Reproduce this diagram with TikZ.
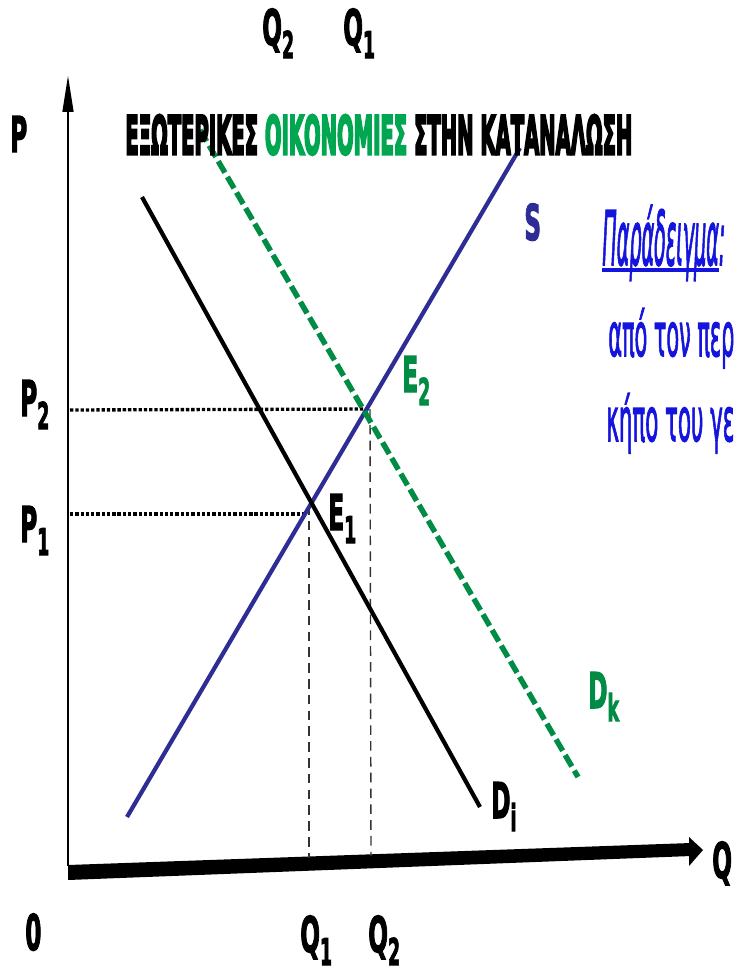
\documentclass[tikz,border=0pt]{standalone}
\usepackage{fontspec}
\setmainfont{DejaVu Sans}
\newfontfamily\heavyfont[FakeBold=3]{DejaVu Sans}
\newfontfamily\titlefont[FakeBold=6]{DejaVu Sans}
\newfontfamily\notefont[FakeBold=2.5]{DejaVu Sans}
\usetikzlibrary{arrows.meta}

\definecolor{supblue}{RGB}{46,45,150}
\definecolor{extgreen}{RGB}{0,140,68}
\definecolor{titlegreen}{RGB}{0,166,80}
\definecolor{noteblue}{RGB}{20,20,220}

\newlength{\pxu}
\setlength{\pxu}{0.02cm}
\newcommand{\narrow}[1]{\scalebox{0.47}[1]{#1}}
\newcommand{\lowsub}[1]{\raisebox{-13\pxu}{\fontsize{21}{21}\selectfont #1}}
\newcommand{\wordul}[1]{\setbox0\hbox{#1}\rlap{\rule[-0.09em]{\wd0}{0.05em}}\box0}

\begin{document}
\begin{tikzpicture}[x=0.02cm, y=-0.02cm,
    lbl/.style={inner sep=0pt, anchor=base west, font=\heavyfont\bfseries\fontsize{28}{30}\selectfont},
    note/.style={inner sep=0pt, anchor=base west, text=noteblue, font=\notefont\fontsize{30}{32}\selectfont},
    dotline/.style={line width=1.9pt, dash pattern=on 1.9pt off 1.1pt},
    dashline/.style={line width=0.8pt, dash pattern=on 5.5pt off 3.5pt, black!80}]
    \useasboundingbox (0,0) rectangle (734,974);

    % Axes
    \coordinate (origin) at (68,872);
    \coordinate (ptop) at (68,75);
    \coordinate (qtip) at (703,850);
    \draw[line width=1.6pt, -{Triangle[length=21pt, width=6pt]}] (68,866) -- (ptop);
    \fill (68,865) -- (691,843) -- (691,856) -- (68,880) -- cycle;
    \fill (689,837) -- (qtip) -- (689,866) -- cycle;

    % Equilibrium points
    \coordinate (E1) at (307,512);
    \coordinate (E2) at (370,409);

    % Price and quantity guides
    \draw[dotline] (70,410) -- (E2);
    \draw[dotline] (70,514) -- (305,514);
    \draw[dashline] (E2) -- (371,856);
    \draw[dashline] (309,505) -- (309,858);

    % Curves
    \draw[supblue, line width=2.4pt] (127,817) -- (520,148);
    \draw[line width=2.4pt] (142,197) -- (480,807);
    \draw[extgreen, line width=3.1pt, dash pattern=on 7.5pt off 2.8pt] (200,130) -- (578,777);

    % Title
    \node[inner sep=0pt, anchor=base west] (title) at (125,154)
        {\resizebox{507\pxu}{39\pxu}{\titlefont\bfseries ΕΞΩΤΕΡΙΚΕΣ \textcolor{titlegreen}{ΟΙΚΟΝΟΜΙΕΣ} ΣΤΗΝ ΚΑΤΑΝΑΛΩΣΗ}};

    % Labels
    \node[lbl] (plab) at (10,152) {\narrow{P}};
    \node[lbl] (qlab) at (712,878) {\narrow{Q}};
    \node[lbl] (zero) at (25,950) {\narrow{0}};
    \node[lbl] (ptwo) at (20,416) {\narrow{P\lowsub{2}}};
    \node[lbl] (pone) at (20,542) {\narrow{P\lowsub{1}}};
    \node[lbl] (qonebot) at (300,952) {\narrow{Q\lowsub{1}}};
    \node[lbl] (qtwobot) at (368,952) {\narrow{Q\lowsub{2}}};
    \node[lbl] (qtwotop) at (262,45) {\narrow{Q\lowsub{2}}};
    \node[lbl] (qonetop) at (343,45) {\narrow{Q\lowsub{1}}};
    \node[lbl] (eone) at (328,530) {\narrow{E\lowsub{1}}};
    \node[lbl, text=extgreen] (etwo) at (402,392) {\narrow{E\lowsub{2}}};
    \node[lbl, text=supblue] (slab) at (524,240) {\narrow{S}};
    \node[lbl, text=extgreen] (dklab) at (588,708) {\narrow{D\lowsub{k}}};
    \node[lbl] (dilab) at (491,818) {\narrow{D\lowsub{i}}};

    % Example text
    \node[note] (example) at (602,265) {\resizebox{123\pxu}{60\pxu}{\itshape\wordul{Παράδειγμα}:}};
    \node[note] (lineone) at (608,356) {\resizebox{126\pxu}{48\pxu}{από τον περ}};
    \node[note] (linetwo) at (606,441) {\resizebox{128\pxu}{48\pxu}{κήπο του γε}};
\end{tikzpicture}
\end{document}
